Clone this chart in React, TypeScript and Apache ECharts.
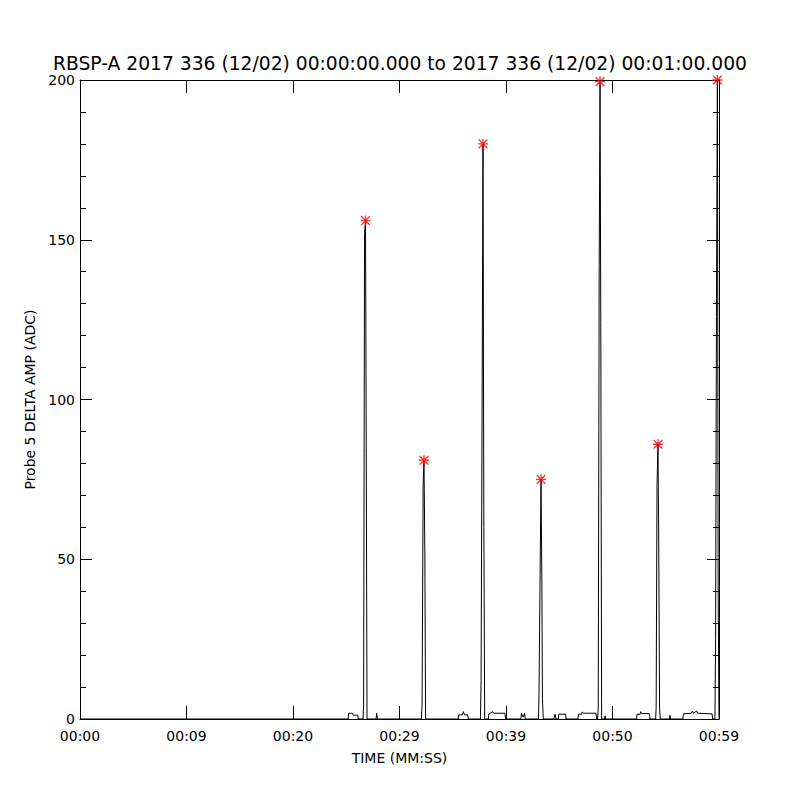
import React, { useEffect, useRef } from "react";
import * as echarts from "echarts";

const TITLE = "RBSP-A 2017 336 (12/02) 00:00:00.000 to 2017 336 (12/02) 00:01:00.000";
const X_NAME = "TIME (MM:SS)";
const Y_NAME = "Probe 5 DELTA AMP (ADC)";
const xTickLabels = ["00:00", "00:09", "00:20", "00:29", "00:39", "00:50", "00:59"];

// seconds since 00:00:00
const times = [
  0, 25.19, 25.22, 25.6, 25.65, 26.08, 26.13,
  26.58, 26.63, 26.72, 26.81, 26.88, 26.95,
  27.8, 27.86, 27.92,
  32.05, 32.12, 32.22, 32.3, 32.38, 32.45,
  35.52, 35.55, 35.9, 36.0, 36.1, 36.4, 36.46,
  37.6, 37.66, 37.76, 37.84, 37.92, 38.0,
  38.34, 38.38, 38.75, 38.85, 39.9, 39.97,
  41.4, 41.45, 41.6, 41.75, 41.8,
  43.05, 43.1, 43.2, 43.29, 43.37, 43.42, 43.5,
  44.5, 44.6, 44.7, 44.92, 44.95, 45.6, 45.63,
  46.76, 46.8, 47.1, 47.15, 47.3, 48.45, 48.52,
  48.6, 48.66, 48.75, 48.83, 48.9, 48.98,
  49.25, 49.3, 49.35,
  52.27, 52.3, 52.6, 52.65, 52.75, 53.45, 53.52,
  54.05, 54.1, 54.18, 54.27, 54.34, 54.42, 54.48,
  55.35, 55.4, 55.45,
  56.62, 56.66, 57.4, 57.5, 57.6, 57.9, 58.0, 59.35, 59.41,
  59.62, 59.68, 59.76, 59.85, 59.92, 60,
];
// probe 5 delta amplitude (ADC)
const amps = [
  0, 0, 1.8, 1.8, 1.2, 1.2, 0,
  0, 4.4, 152, 156, 83, 0,
  0, 1.8, 0,
  0, 4, 73, 81, 52, 0,
  0, 1.3, 1.3, 2.3, 1.3, 1.3, 0,
  0, 12, 102, 180, 60, 0,
  0, 1.5, 2.3, 1.8, 1.8, 0,
  0, 1.8, 0.6, 1.8, 0,
  0, 7.5, 45, 75, 42, 6.5, 0,
  0, 1.5, 0, 0, 1.5, 1.5, 0,
  0, 1.5, 1.5, 2.2, 1.8, 1.8, 0,
  0, 3, 142, 199.5, 124, 0,
  0, 1, 0,
  0, 1.5, 1.5, 2.3, 1.7, 1.7, 0,
  0, 3.8, 73, 86, 56, 3.8, 0,
  0, 1.2, 0,
  0, 1.6, 1.8, 2.5, 1.8, 2.5, 1.8, 1.6, 0,
  0, 25, 126, 205, 40, 0,
];

const peakTimes = [26.81, 32.3, 37.84, 43.29, 48.83, 54.27, 59.85];
const peakAmps = [156, 81, 180, 75, 199.5, 86, 200];

const FONT = "DejaVu Sans";
const STAR =
  "path://M0,4.3L10,4.3L10,5.7L0,5.7Z M4.3,0L5.7,0L5.7,10L4.3,10Z M1.2,0.2L9.8,8.8L8.8,9.8L0.2,1.2Z M8.8,0.2L9.8,1.2L1.2,9.8L0.2,8.8Z";

export default function App() {
  const ref = useRef<HTMLDivElement>(null);
  useEffect(() => {
    if (!ref.current) return;
    const chart = echarts.init(ref.current, null, { renderer: "svg" });
    const lineData = times.map((t, i) => [t, amps[i]]);
    const peakData = peakTimes.map((t, i) => [t, peakAmps[i]]);
    const black = "#000";
    const xCommon = {
      type: "value",
      min: 0,
      max: 60,
      interval: 10,
      splitLine: { show: false },
      axisLine: { show: true, onZero: false, lineStyle: { color: black, width: 1 } },
      axisTick: { show: true, inside: true, length: 13, lineStyle: { color: black, width: 1 } },
    };
    const yCommon = {
      type: "value",
      min: 0,
      max: 200,
      interval: 50,
      splitLine: { show: false },
      axisLine: { show: true, onZero: false, lineStyle: { color: black, width: 1 } },
      axisTick: { show: true, inside: true, length: 12, lineStyle: { color: black, width: 1 } },
      minorTick: { show: true, splitNumber: 5, length: 6, lineStyle: { color: black, width: 1 } },
      minorSplitLine: { show: false },
    };
    chart.setOption({
      animation: false,
      backgroundColor: "#fff",
      title: {
        text: TITLE,
        left: "center",
        top: 54,
        padding: 0,
        textStyle: {
          fontFamily: FONT,
          fontSize: 18.7,
          lineHeight: 18,
          fontWeight: "normal",
          color: black,
        },
      },
      grid: { left: 80, right: 81, top: 80, bottom: 81, containLabel: false },
      xAxis: [
        {
          ...xCommon,
          position: "bottom",
          name: X_NAME,
          nameLocation: "middle",
          nameGap: 32,
          nameTextStyle: { fontFamily: FONT, fontSize: 14, color: black },
          axisLabel: {
            show: true,
            margin: 10,
            fontFamily: FONT,
            fontSize: 14,
            color: black,
            showMinLabel: true,
            showMaxLabel: true,
            formatter: (v: number) => xTickLabels[Math.round(v / 10)] ?? "",
          },
        },
        { ...xCommon, position: "top", axisLabel: { show: false } },
      ],
      yAxis: [
        {
          ...yCommon,
          position: "left",
          name: Y_NAME,
          nameLocation: "middle",
          nameGap: 37,
          nameTextStyle: { fontFamily: FONT, fontSize: 14, color: black },
          axisLabel: {
            show: true,
            margin: 5,
            fontFamily: FONT,
            fontSize: 14,
            lineHeight: 13,
            color: black,
          },
        },
        { ...yCommon, position: "right", axisLabel: { show: false } },
      ],
      series: [
        {
          type: "line",
          data: lineData,
          xAxisIndex: 0,
          yAxisIndex: 0,
          showSymbol: false,
          symbol: "none",
          lineStyle: { color: black, width: 1 },
          clip: true,
          z: 2,
        },
        {
          type: "scatter",
          data: peakData,
          xAxisIndex: 0,
          yAxisIndex: 0,
          symbol: STAR,
          symbolSize: 10,
          itemStyle: { color: "#ff0000" },
          clip: false,
          z: 3,
        },
      ],
    });
    return () => chart.dispose();
  }, []);
  return (
    <div
      ref={ref}
      style={{ position: "fixed", left: 0, top: 0, width: 800, height: 800, background: "#fff" }}
    />
  );
}
